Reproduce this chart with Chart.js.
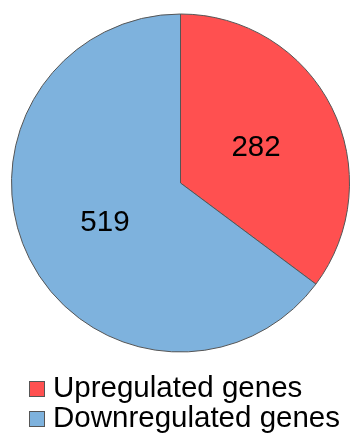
<!DOCTYPE html>
<html>
<head>
<meta charset="utf-8">
<script src="https://cdn.jsdelivr.net/npm/chart.js@4"></script>
<style>
  html, body { margin: 0; padding: 0; background: #fff; }
  #wrap { width: 350px; height: 436px; }
</style>
</head>
<body>
<div id="wrap"><canvas id="gene-chart" width="350" height="436"></canvas></div>
<script>
const labels = ['Upregulated genes', 'Downregulated genes']
const counts = [282, 519]
const colors = ['#ff5050', '#7eb2dd']

const FONT = '"Liberation Sans", Arial, sans-serif'

// counts written inside each slice, halfway out from the centre
const sliceLabels = {
  id: 'sliceLabels',
  afterDatasetsDraw (chart) {
    const ctx = chart.ctx
    const meta = chart.getDatasetMeta(0)
    ctx.save()
    ctx.font = '29.5px ' + FONT
    ctx.fillStyle = '#000'
    ctx.textAlign = 'center'
    ctx.textBaseline = 'alphabetic'
    meta.data.forEach((arc, i) => {
      const p = arc.tooltipPosition()
      ctx.fillText(String(counts[i]), p.x, p.y + 29.5 * 0.358)
    })
    ctx.restore()
  }
}

// legend below the pie, one entry per row
const bottomLegend = {
  id: 'bottomLegend',
  afterDraw (chart) {
    const ctx = chart.ctx
    ctx.save()
    ctx.font = '29.5px ' + FONT
    ctx.textAlign = 'left'
    ctx.textBaseline = 'alphabetic'
    labels.forEach((label, i) => {
      const base = 396.5 + i * 30
      ctx.fillStyle = colors[i]
      ctx.fillRect(29.5, base - 15, 15, 15)
      ctx.strokeStyle = '#555'
      ctx.lineWidth = 1
      ctx.strokeRect(29.5, base - 15, 15, 15)
      ctx.fillStyle = '#000'
      ctx.fillText(label, 53, base)
    })
    ctx.restore()
  }
}

new Chart(document.getElementById('gene-chart'), {
  type: 'pie',
  data: {
    labels: labels,
    datasets: [{
      data: counts,
      backgroundColor: colors,
      borderColor: '#555',
      borderWidth: 1
    }]
  },
  options: {
    responsive: false,
    animation: false,
    layout: { padding: { left: 11, top: 13, right: 0, bottom: 83 } },
    plugins: {
      legend: { display: false },
      tooltip: { enabled: false }
    }
  },
  plugins: [sliceLabels, bottomLegend]
})
</script>
</body>
</html>
